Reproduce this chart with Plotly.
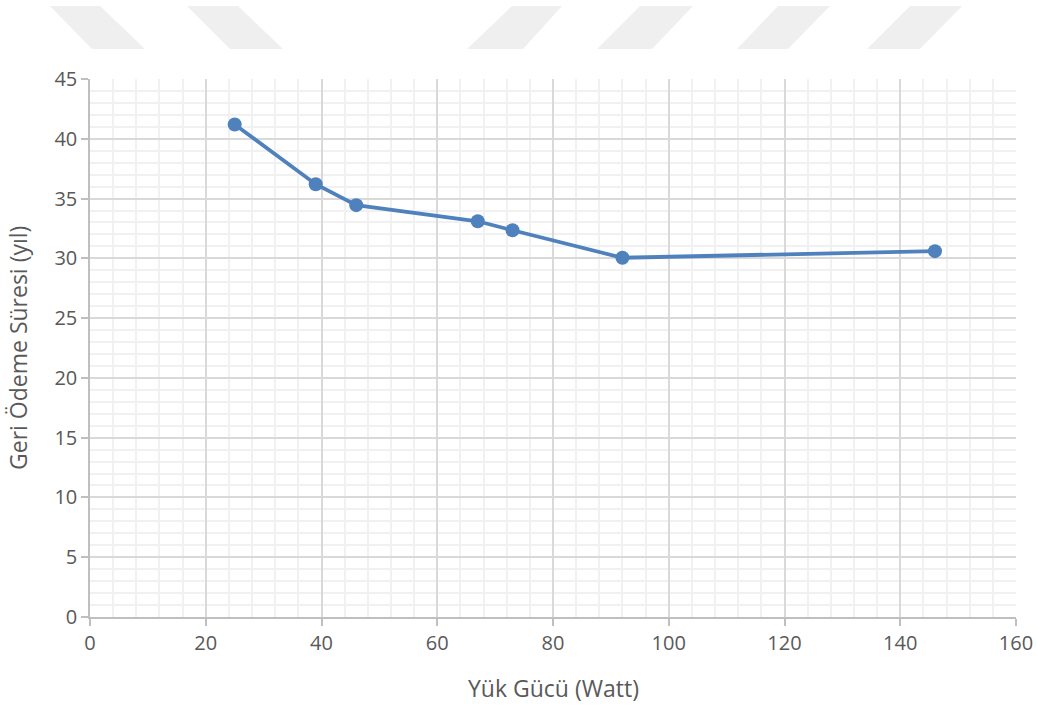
import plotly.graph_objects as go

# Load power (W) vs payback period (years)
load_power = [25, 39, 46, 67, 73, 92, 146]
payback_years = [41.2, 36.2, 34.45, 33.1, 32.35, 30.05, 30.6]

x_ticks = [0, 20, 40, 60, 80, 100, 120, 140, 160]
y_ticks = [0, 5, 10, 15, 20, 25, 30, 35, 40, 45]

line_blue = "#4f81bd"
text_gray = "#595959"
font_family = "Open Sans, Noto Sans, sans-serif"

W, H = 1037, 705
M_L, M_R, M_T, M_B = 90, 21, 79, 88

fig = go.Figure()
fig.add_trace(go.Scatter(
    x=load_power, y=payback_years,
    mode="lines+markers",
    line=dict(color=line_blue, width=3.8),
    marker=dict(color=line_blue, size=14),
    showlegend=False,
))

axis_common = dict(
    showline=True, linecolor="#bfbfbf", linewidth=1.5,
    ticks="outside", ticklen=7, tickcolor="#bfbfbf", tickwidth=1.5,
    gridcolor="#d9d9d9", gridwidth=1.5,
    zeroline=False, automargin=False,
    tickfont=dict(size=20, color=text_gray, family=font_family),
)

fig.update_xaxes(
    range=[0, 160], tickvals=x_ticks,
    minor=dict(dtick=4, showgrid=True, gridcolor="#f1f1f1", gridwidth=1.5),
    **axis_common,
)
fig.update_yaxes(
    range=[0, 45], tickvals=y_ticks,
    minor=dict(dtick=1, showgrid=True, gridcolor="#f1f1f1", gridwidth=1.5),
    **axis_common,
)

# Axis titles placed in pixel terms relative to the plot area
plot_w = W - M_L - M_R
plot_h = H - M_T - M_B
title_font = dict(size=23, color=text_gray, family=font_family)
fig.add_annotation(
    text="Yük Gücü (Watt)", xref="paper", yref="paper",
    x=0.5, y=(H - M_B - 688) / plot_h, xanchor="center", yanchor="middle",
    showarrow=False, font=title_font,
)
fig.add_annotation(
    text="Geri Ödeme Süresi (yıl)", xref="paper", yref="paper",
    x=(18 - M_L) / plot_w, y=0.5, xanchor="center", yanchor="middle",
    textangle=-90, showarrow=False, font=title_font,
)

# Faint slanted band decoration across the top of the page
bands = [
    ((50, 100), (92, 145)),
    ((187, 238), (230, 283)),
    ((512, 562), (467, 523)),
    ((640, 693), (597, 652)),
    ((778, 830), (737, 788)),
    ((910, 962), (867, 920)),
]
y_top, y_bot = 6, 49
shapes = []
for (t0, t1), (b0, b1) in bands:
    pts = [(t0, y_top), (t1, y_top), (b1, y_bot), (b0, y_bot)]
    path = "M " + " L ".join(
        f"{(px - M_L) / plot_w:.5f},{(H - M_B - py) / plot_h:.5f}" for px, py in pts
    ) + " Z"
    shapes.append(dict(type="path", xref="paper", yref="paper", path=path,
                       fillcolor="#efefef", line=dict(width=0), layer="below"))

fig.update_layout(
    width=W, height=H,
    margin=dict(l=M_L, r=M_R, t=M_T, b=M_B),
    paper_bgcolor="white", plot_bgcolor="white",
    shapes=shapes,
)

fig.write_html("out.html")
